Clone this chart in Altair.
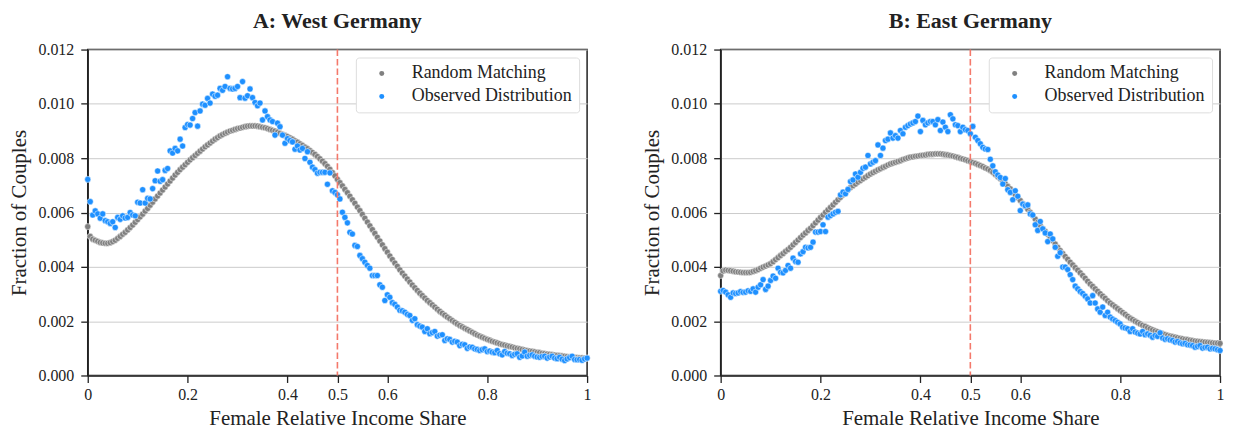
import pandas as pd
import altair as alt

FONT = "Liberation Serif"
SERIES = ["Random Matching", "Observed Distribution"]
COLORS = ["#808080", "#1e90ff"]

# bin centres of the female income share, 0 to 1 in steps of 0.005
share = [round(i * 0.005, 3) for i in range(201)]

# values below are in thousandths (0.001 units)
west_random = [
    5.48, 5.12, 5.02, 4.98, 4.94, 4.90, 4.88, 4.87, 4.87, 4.89,
    4.93, 4.98, 5.05, 5.12, 5.20, 5.27, 5.36, 5.45, 5.54, 5.64,
    5.74, 5.84, 5.94, 6.05, 6.15, 6.27, 6.38, 6.50, 6.61, 6.72,
    6.83, 6.94, 7.05, 7.16, 7.27, 7.38, 7.48, 7.58, 7.67, 7.76,
    7.85, 7.94, 8.02, 8.10, 8.18, 8.26, 8.34, 8.42, 8.49, 8.56,
    8.63, 8.70, 8.76, 8.82, 8.87, 8.92, 8.96, 9.00, 9.03, 9.06,
    9.09, 9.11, 9.14, 9.16, 9.18, 9.19, 9.19, 9.19, 9.18, 9.16,
    9.14, 9.12, 9.09, 9.06, 9.03, 9.00, 8.96, 8.92, 8.88, 8.84,
    8.80, 8.75, 8.70, 8.64, 8.59, 8.53, 8.47, 8.41, 8.35, 8.28,
    8.21, 8.14, 8.06, 7.98, 7.89, 7.80, 7.70, 7.59, 7.47, 7.35,
    7.22, 7.10, 6.98, 6.85, 6.73, 6.60, 6.47, 6.34, 6.20, 6.07,
    5.93, 5.79, 5.65, 5.51, 5.37, 5.23, 5.09, 4.95, 4.81, 4.67,
    4.54, 4.40, 4.27, 4.14, 4.02, 3.89, 3.77, 3.66, 3.55, 3.44,
    3.33, 3.23, 3.13, 3.03, 2.94, 2.85, 2.76, 2.68, 2.60, 2.52,
    2.44, 2.36, 2.29, 2.22, 2.15, 2.09, 2.02, 1.96, 1.90, 1.84,
    1.79, 1.74, 1.69, 1.64, 1.59, 1.54, 1.49, 1.45, 1.41, 1.37,
    1.33, 1.30, 1.26, 1.23, 1.20, 1.17, 1.14, 1.12, 1.09, 1.07,
    1.05, 1.02, 1.00, 0.98, 0.96, 0.94, 0.92, 0.90, 0.89, 0.87,
    0.85, 0.84, 0.82, 0.81, 0.79, 0.78, 0.77, 0.75, 0.74, 0.73,
    0.72, 0.71, 0.70, 0.69, 0.68, 0.67, 0.66, 0.65, 0.65, 0.64,
    0.64,
]

west_observed = [
    7.22, 6.40, 5.91, 6.06, 5.95, 5.79, 5.95, 5.70, 5.66, 5.60,
    5.66, 5.45, 5.82, 5.75, 5.88, 5.80, 5.82, 6.00, 5.91, 5.88,
    6.38, 6.35, 6.84, 6.35, 6.52, 6.50, 6.88, 7.17, 7.53, 7.15,
    7.21, 7.55, 7.62, 8.27, 8.19, 8.36, 8.27, 8.70, 8.45, 9.13,
    9.24, 9.22, 9.46, 9.68, 9.18, 9.74, 9.99, 9.95, 10.20, 10.03,
    10.36, 10.28, 10.32, 10.57, 10.50, 10.64, 11.00, 10.57, 10.55, 10.57,
    10.64, 10.23, 10.82, 10.21, 10.30, 10.55, 10.23, 10.05, 9.93, 10.03,
    9.41, 9.74, 9.53, 9.41, 9.35, 8.85, 9.29, 9.16, 8.85, 8.55,
    8.72, 8.65, 8.60, 8.33, 8.45, 8.30, 8.36, 7.99, 8.24, 7.85,
    7.67, 7.58, 7.45, 7.48, 7.48, 7.48, 7.04, 7.46, 6.80, 6.74,
    6.65, 6.50, 6.01, 5.82, 5.62, 5.27, 5.21, 4.79, 4.75, 4.42,
    4.30, 4.17, 4.05, 3.95, 3.68, 3.68, 3.68, 3.34, 3.25, 2.76,
    2.97, 2.88, 2.68, 2.62, 2.52, 2.40, 2.38, 2.33, 2.25, 2.21,
    2.03, 2.09, 1.87, 1.82, 1.78, 1.62, 1.72, 1.54, 1.58, 1.62,
    1.45, 1.48, 1.50, 1.29, 1.35, 1.33, 1.23, 1.26, 1.23, 1.10,
    1.15, 1.13, 1.00, 1.05, 1.04, 0.98, 0.96, 0.92, 0.95, 0.98,
    0.88, 0.90, 0.86, 0.84, 0.92, 0.80, 0.76, 0.88, 0.82, 0.80,
    0.74, 0.78, 0.80, 0.67, 0.72, 0.86, 0.71, 0.74, 0.76, 0.71,
    0.68, 0.67, 0.70, 0.71, 0.64, 0.68, 0.71, 0.64, 0.62, 0.67,
    0.60, 0.55, 0.61, 0.66, 0.71, 0.59, 0.58, 0.59, 0.56, 0.61,
    0.64,
]

east_random = [
    3.68, 3.85, 3.88, 3.87, 3.86, 3.84, 3.82, 3.81, 3.80, 3.79,
    3.79, 3.79, 3.80, 3.83, 3.86, 3.90, 3.95, 3.99, 4.03, 4.07,
    4.12, 4.19, 4.27, 4.34, 4.42, 4.49, 4.57, 4.64, 4.72, 4.81,
    4.90, 4.99, 5.08, 5.17, 5.25, 5.34, 5.42, 5.52, 5.62, 5.72,
    5.82, 5.91, 6.01, 6.10, 6.19, 6.28, 6.38, 6.47, 6.56, 6.65,
    6.75, 6.84, 6.92, 6.99, 7.05, 7.12, 7.18, 7.24, 7.30, 7.36,
    7.42, 7.47, 7.52, 7.57, 7.61, 7.66, 7.70, 7.75, 7.79, 7.82,
    7.85, 7.88, 7.91, 7.95, 7.98, 8.01, 8.04, 8.05, 8.07, 8.08,
    8.10, 8.11, 8.12, 8.14, 8.15, 8.15, 8.16, 8.16, 8.16, 8.15,
    8.13, 8.12, 8.10, 8.08, 8.05, 8.03, 8.00, 7.97, 7.94, 7.91,
    7.88, 7.84, 7.81, 7.77, 7.73, 7.69, 7.64, 7.60, 7.55, 7.48,
    7.40, 7.32, 7.24, 7.15, 7.06, 6.96, 6.87, 6.76, 6.65, 6.55,
    6.44, 6.33, 6.23, 6.12, 6.01, 5.89, 5.76, 5.64, 5.52, 5.41,
    5.31, 5.20, 5.09, 4.97, 4.84, 4.72, 4.60, 4.49, 4.38, 4.28,
    4.17, 4.07, 3.97, 3.88, 3.78, 3.68, 3.58, 3.47, 3.37, 3.28,
    3.19, 3.10, 3.01, 2.92, 2.84, 2.75, 2.67, 2.60, 2.53, 2.46,
    2.39, 2.32, 2.25, 2.18, 2.11, 2.06, 2.00, 1.95, 1.90, 1.85,
    1.81, 1.76, 1.72, 1.68, 1.64, 1.61, 1.57, 1.54, 1.51, 1.48,
    1.45, 1.43, 1.41, 1.39, 1.37, 1.35, 1.33, 1.32, 1.30, 1.29,
    1.27, 1.26, 1.25, 1.24, 1.23, 1.22, 1.21, 1.20, 1.19, 1.19,
    1.18,
]

east_observed = [
    3.10, 3.13, 3.07, 2.97, 2.88, 3.04, 3.02, 3.04, 3.09, 3.06,
    3.07, 3.12, 3.10, 3.19, 3.07, 3.25, 3.34, 3.53, 3.17, 3.29,
    3.50, 3.66, 3.58, 3.95, 3.80, 3.78, 3.87, 4.05, 3.95, 4.32,
    4.20, 4.17, 4.48, 4.56, 4.72, 4.70, 4.72, 4.91, 5.28, 5.28,
    5.30, 5.55, 5.30, 5.83, 5.89, 5.95, 6.01, 6.04, 6.65, 6.75,
    6.69, 6.85, 7.14, 7.20, 7.42, 7.30, 7.48, 7.63, 7.67, 8.10,
    7.79, 7.85, 7.91, 8.49, 8.10, 8.37, 8.65, 8.70, 8.93, 8.74,
    8.83, 8.74, 9.02, 8.90, 9.14, 9.20, 9.26, 9.30, 9.35, 9.55,
    8.98, 9.39, 9.23, 9.30, 9.35, 9.35, 9.23, 9.42, 9.02, 9.33,
    9.14, 8.98, 9.60, 9.45, 9.23, 9.20, 8.98, 9.14, 9.05, 9.02,
    8.90, 9.17, 8.77, 8.65, 8.53, 8.40, 8.34, 8.32, 7.96, 7.72,
    7.50, 7.38, 7.29, 7.05, 7.25, 6.84, 6.74, 6.47, 6.80, 6.60,
    6.07, 6.31, 6.25, 6.28, 5.95, 5.91, 5.55, 5.34, 5.67, 5.40,
    5.25, 4.93, 5.21, 5.03, 4.72, 4.39, 4.52, 3.99, 3.99, 3.90,
    3.71, 3.53, 3.29, 3.19, 3.09, 3.02, 2.92, 2.82, 2.67, 2.94,
    2.67, 2.45, 2.33, 2.52, 2.21, 2.33, 2.15, 2.08, 2.02, 1.96,
    1.90, 1.78, 1.75, 1.72, 1.62, 1.72, 1.60, 1.56, 1.53, 1.62,
    1.50, 1.53, 1.48, 1.41, 1.47, 1.44, 1.57, 1.38, 1.33, 1.35,
    1.31, 1.29, 1.23, 1.25, 1.20, 1.17, 1.18, 1.13, 1.12, 1.10,
    1.04, 1.07, 1.10, 1.01, 1.03, 1.04, 0.98, 1.00, 0.98, 0.95,
    0.92,
]

x_ticks = [0, 0.2, 0.4, 0.5, 0.6, 0.8, 1]
y_ticks = [0, 0.002, 0.004, 0.006, 0.008, 0.010, 0.012]


def make_panel(title, random_vals, observed_vals):
    n = len(share)
    df = pd.DataFrame({
        "share": share + share,
        "fraction": [v / 1000 for v in random_vals + observed_vals],
        "series": [SERIES[0]] * n + [SERIES[1]] * n,
    })

    points = alt.Chart(df).mark_circle(
        size=38, opacity=1, stroke="white", strokeWidth=0.5
    ).encode(
        x=alt.X("share:Q", title="Female Relative Income Share",
                scale=alt.Scale(domain=[0, 1], nice=False),
                axis=alt.Axis(values=x_ticks, format="~g", grid=False,
                              labelFlush=False)),
        y=alt.Y("fraction:Q", title="Fraction of Couples",
                scale=alt.Scale(domain=[0, 0.012], nice=False),
                axis=alt.Axis(values=y_ticks, format=".3f", grid=True)),
        color=alt.Color("series:N", title=None,
                        scale=alt.Scale(domain=SERIES, range=COLORS),
                        legend=alt.Legend(orient="top-right")),
    )

    half = alt.Chart(pd.DataFrame({"share": [0.5]})).mark_rule(
        color="#f4796b", strokeDash=[6.5, 3], strokeWidth=1.6
    ).encode(x="share:Q")

    return alt.layer(points, half).properties(
        width=501, height=327, title=title
    )


west = make_panel("A: West Germany", west_random, west_observed)
east = make_panel("B: East Germany", east_random, east_observed)

chart = alt.hconcat(west, east, spacing=49).resolve_scale(
    color="independent"
).properties(
    padding=0
).configure_view(
    stroke="#222222", strokeWidth=1.5
).configure_axis(
    labelFont=FONT, labelFontSize=16, labelColor="#222222",
    titleFont=FONT, titleFontSize=21, titleFontWeight="normal", titleColor="#222222",
    domainColor="#222222", domainWidth=1.3,
    tickColor="#222222", tickWidth=1.3, tickSize=7,
    gridColor="#cccccc", gridWidth=1,
).configure_axisX(
    labelPadding=4, titlePadding=5
).configure_axisY(
    labelPadding=7, titlePadding=8
).configure_title(
    font=FONT, fontSize=22, fontWeight="bold", color="#222222",
    anchor="middle", frame="group", offset=9, baseline="alphabetic"
).configure_legend(
    labelFont=FONT, labelFontSize=18, labelColor="#222222", labelLimit=300,
    fillColor="white", strokeColor="#dddddd", cornerRadius=3,
    padding=7, offset=8, rowPadding=5,
    symbolType="circle", symbolSize=25, symbolStrokeWidth=0,
    symbolOffset=10, labelOffset=21,
)

chart.save("out.html", embed_options={"renderer": "svg", "actions": False})
